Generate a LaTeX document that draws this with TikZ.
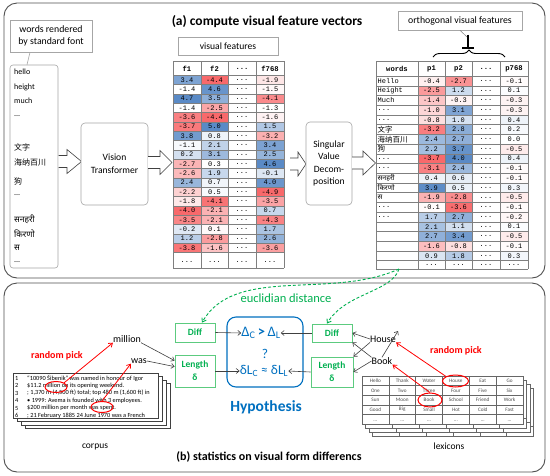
\documentclass[tikz,border=0pt]{standalone}
\usepackage{fontspec}
\setmainfont{Carlito}
\setmonofont{Liberation Mono}
\newfontfamily\cjk{Noto Sans CJK SC}
\newfontfamily\deva[Script=Devanagari]{Noto Sans}
\usetikzlibrary{arrows.meta,decorations.pathreplacing,shapes.geometric,calc}
\definecolor{cblue}{HTML}{5A8AC6}
\definecolor{cred}{HTML}{F8696B}
\definecolor{gtext}{HTML}{00B050}
\definecolor{gboxc}{HTML}{5CCB7F}
\definecolor{hblue}{HTML}{0070C0}
\definecolor{panel}{HTML}{505050}
\definecolor{lbox}{HTML}{A6A6A6}
\definecolor{arr}{HTML}{404040}
\definecolor{gridc}{HTML}{7F7F7F}
\newcommand\fsz[2]{\fontsize{#1}{#2}\selectfont}
\newcommand\vcell[8]{%
  \pgfmathsetmacro\vcdv{(#5)-(#6)}%
  \pgfmathtruncatemacro\vcpos{\vcdv>=0 ? 1 : 0}%
  \ifnum\vcpos=1
    \pgfmathsetmacro\vcpc{min(100,abs(100*\vcdv/(#8)))}\def\vccc{cblue}%
  \else
    \pgfmathsetmacro\vcpc{min(100,abs(100*\vcdv/(#7)))}\def\vccc{cred}%
  \fi
  \colorlet{vctmp}{\vccc!\vcpc!white}%
  \fill[fill=vctmp] (#1,#3) rectangle (#2,#4);
  \node[celltext] at ({(#1+#2)/2},{(#3+#4)/2}) {#5};}
\newcommand\blockarr[4]{%
  \draw[blockarrow] (#1,{#4-6}) -- (#2,{#4-6}) -- (#2,{#4-12}) -- (#3,#4) -- (#2,{#4+12}) -- (#2,{#4+6}) -- (#1,{#4+6});}
\begin{document}
\begin{tikzpicture}[x=1pt,y=-1pt,
  panelbox/.style={draw=panel,line width=0.9pt,rounded corners=13pt},
  lightbox/.style={draw=lbox,line width=0.6pt,fill=white,inner sep=1pt,align=center},
  procbox/.style={draw=lbox,line width=0.6pt,fill=white,rounded corners=4pt,align=center,inner sep=1pt},
  blockarrow/.style={draw=arr,line width=0.6pt,fill=white,line join=miter},
  tabgrid/.style={draw=gridc,line width=0.45pt},
  celltext/.style={font=\ttfamily\fsz{7}{7},inner sep=0pt,text=black},
  headtext/.style={font=\ttfamily\bfseries\fsz{7.2}{8},inner sep=0pt},
  wordtext/.style={font=\fsz{8}{9},anchor=west,inner sep=0pt},
  rwtext/.style={font=\ttfamily\fsz{7}{8},anchor=west,inner sep=0pt},
  gbox/.style={draw=gboxc,line width=0.8pt,fill=white,text=gtext,font=\bfseries\fsz{9.5}{11},align=center,inner sep=1pt},
  garr/.style={draw=arr,line width=0.6pt,-{Straight Barb[length=3pt,width=5pt]}},
  redarr/.style={draw=red,line width=0.8pt,-{Straight Barb[length=3.5pt,width=5pt]}},
  redell/.style={draw=red,line width=1pt,ellipse,inner sep=0pt},
  greendash/.style={draw=gtext,line width=0.9pt,dash pattern=on 3pt off 2pt,-{Straight Barb[length=3.5pt,width=5pt]}},
  htext/.style={text=hblue,font=\fsz{13.5}{14},inner sep=0pt},
  docpage/.style={draw=black!75,line width=0.5pt,fill=white},
  doctext/.style={font=\fsz{6.3}{7},anchor=west,inner sep=0pt},
  lextext/.style={font=\fsz{5.2}{6},text=black!70,inner sep=0pt},
  lexgrid/.style={draw=black!60,line width=0.4pt},
  plaintext/.style={font=\fsz{10}{12},inner sep=0pt}
]
\useasboundingbox (0,0) rectangle (550,475);
\fill[white] (0,0) rectangle (550,475);
% panels
\draw[panelbox] (4,3) rectangle (545,278);
\draw[panelbox] (4,283) rectangle (545,472);
\node[font=\bfseries\fsz{13.5}{15},inner sep=0pt] (ta) at (267,22) {(a) compute visual feature vectors};
\node[font=\bfseries\fsz{12}{14},inner sep=0pt] (tb) at (269,457) {(b) statistics on visual form differencs};

% ---------- word list ----------
\node[lightbox,minimum width=82pt,minimum height=32pt,font=\fsz{9.8}{12.5}] (wr) at (51,36) {words rendered\\by standard font};
\node[draw=lbox,line width=0.6pt,rounded corners=3pt,minimum width=48pt,minimum height=203pt] (wl) at (34,166.5) {};
\draw[lbox,line width=0.6pt] (30,0 |- wr.south) -- (27,0 |- wl.north);
\node[wordtext] at (14,72) {hello};
\node[wordtext] at (14,87) {height};
\node[wordtext] at (14,101) {much};
\node[wordtext] at (14,116) {...};
\node[wordtext,font=\cjk\fsz{8}{9}] at (14,147.5) {文字};
\node[wordtext,font=\cjk\fsz{8}{9}] at (14,162.5) {海纳百川};
\node[wordtext,font=\cjk\fsz{8}{9}] at (14,181) {狗};
\node[wordtext] at (14,195) {...};
\node[wordtext,font=\deva\fsz{8.5}{9}] at (14,219.5) {सनहरी};
\node[wordtext,font=\deva\fsz{8.5}{9}] at (14,233.5) {किरणो};
\node[wordtext,font=\deva\fsz{8.5}{9}] at (14,248) {स};
\node[wordtext] at (14,262) {...};

% ---------- Vision Transformer ----------
\blockarr{58.5}{67}{81.5}{161.5}
\node[procbox,minimum width=67pt,minimum height=82pt,font=\fsz{9.6}{13}] (vt) at (114.5,164) {Vision\\Transformer};
\blockarr{148}{160}{172}{162.5}

% ---------- visual features table ----------
\node[lightbox,minimum width=100pt,minimum height=18pt,font=\fsz{9.6}{11}] (vf) at (228,46) {visual features};
\foreach \v [count=\i] in {3.4,-1.4,4.7,-1.4,-3.6,-3.7,3.8,-1.1,0.2,-2.7,-2.6,2.4,-2.2,-1.8,-4.0,-3.5,-0.2,1.2,-3.8}{%
  \pgfmathsetmacro\yt{75.3+9.33*(\i-1)}\pgfmathsetmacro\yb{\yt+9.33}%
  \vcell{173}{201}{\yt}{\yb}{\v}{-1.4}{2.6}{6.1}}
\foreach \v [count=\i] in {-4.4,4.6,3.5,-2.5,-4.4,5.0,0.8,2.1,3.1,0.3,1.9,0.7,0.5,-4.1,-2.1,-2.1,0.1,-2.8,-1.6}{%
  \pgfmathsetmacro\yt{75.3+9.33*(\i-1)}\pgfmathsetmacro\yb{\yt+9.33}%
  \vcell{201}{228}{\yt}{\yb}{\v}{0.3}{4.7}{4.7}}
\foreach \v [count=\i] in {-1.9,-1.5,-4.1,-1.3,-1.6,1.5,-3.2,3.4,2.5,4.6,-0.1,4.0,-4.9,-3.5,0.7,-4.3,1.7,2.6,-3.6}{%
  \pgfmathsetmacro\yt{75.3+9.33*(\i-1)}\pgfmathsetmacro\yb{\yt+9.33}%
  \vcell{256}{284}{\yt}{\yb}{\v}{-1.3}{3.6}{5.9}}
\foreach \i in {1,...,19} \node[celltext] at (242,{75.3+9.33*(\i-0.5)}) {...};
\foreach \x in {187,214.5,242,270} \node[celltext] at (\x,262) {...};
\node[headtext] at (187,68.5) {f1};
\node[headtext] at (214.5,68.5) {f2};
\node[headtext] at (242,68.5) {...};
\node[headtext] at (270,68.5) {f768};
\foreach \x in {173,201,228,256,284} \draw[tabgrid] (\x,61) -- (\x,268);
\draw[tabgrid] (173,61) -- (284,61);
\foreach \i in {0,...,19} \draw[tabgrid] (173,{75.3+9.33*\i}) -- (284,{75.3+9.33*\i});
\draw[tabgrid] (173,268) -- (284,268);

% ---------- SVD ----------
\blockarr{290}{298}{306}{164}
\node[procbox,minimum width=46pt,minimum height=83pt,font=\fsz{9.6}{12.5}] (svd) at (329,163.5) {Singular\\Value\\Decom-\\position};
\blockarr{352}{363}{375.5}{163}

% ---------- orthogonal table ----------
\node[lightbox,minimum width=124pt,minimum height=19pt,font=\fsz{9.8}{11}] (ob) at (460,20.5) {orthogonal visual features};
\draw[gray,line width=0.5pt] (ob.south) -- (467,37);
\draw[line width=1.6pt] (468,34.5) -- (468,48);
\draw[line width=1.6pt] (462,48) -- (474,48);
\draw[decorate,decoration={brace,amplitude=7pt},line width=0.9pt] (433,57) -- (505,57);
\foreach \v [count=\i] in {-0.4,-2.5,-1.4,-1.0,-0.8,-3.2,2.4,2.2,-3.7,-3.1,0.4,3.9,-1.9,-0.1,1.7,2.1,2.7,-1.6,0.9}{%
  \pgfmathsetmacro\yt{76+9.72*(\i-1)}\pgfmathsetmacro\yb{\yt+9.72}%
  \vcell{418}{445}{\yt}{\yb}{\v}{0}{3.7}{4.0}}
\foreach \v [count=\i] in {-2.7,1.2,-0.3,3.1,1.0,2.8,2.7,3.7,4.0,2.4,0.6,0.5,-2.8,-3.6,2.7,1.1,3.4,-0.8,1.8}{%
  \pgfmathsetmacro\yt{76+9.72*(\i-1)}\pgfmathsetmacro\yb{\yt+9.72}%
  \vcell{445}{472}{\yt}{\yb}{\v}{0}{3.7}{4.0}}
\foreach \v [count=\i] in {-0.1,0.1,-0.3,-0.3,0.4,0.2,0.0,-0.5,0.4,-0.1,-0.1,0.3,-0.5,-0.1,-0.2,0.1,-0.5,-0.1,0.3}{%
  \pgfmathsetmacro\yt{76+9.72*(\i-1)}\pgfmathsetmacro\yb{\yt+9.72}%
  \vcell{500}{528}{\yt}{\yb}{\v}{0}{3.7}{4.0}}
\foreach \i in {1,...,19} \node[celltext] at (486,{76+9.72*(\i-0.5)}) {...};
\foreach \x in {431.5,458.5,486,514} \node[celltext] at (\x,265) {...};
\node[headtext] at (397,68.5) {words};
\node[headtext] at (431.5,68.5) {p1};
\node[headtext] at (458.5,68.5) {p2};
\node[headtext] at (486,68.5) {...};
\node[headtext] at (514,68.5) {p768};
\node[rwtext] at (377.5,80.9) {Hello};
\node[rwtext] at (377.5,90.6) {Height};
\node[rwtext] at (377.5,100.3) {Much};
\node[rwtext] at (377.5,110.0) {...};
\node[rwtext] at (377.5,119.7) {...};
\node[rwtext,font=\cjk\fsz{7.5}{8}] at (377.5,129.5) {文字};
\node[rwtext,font=\cjk\fsz{7.5}{8}] at (377.5,139.2) {海纳百川};
\node[rwtext,font=\cjk\fsz{7.5}{8}] at (377.5,148.9) {狗};
\node[rwtext] at (377.5,158.6) {...};
\node[rwtext] at (377.5,168.3) {...};
\node[rwtext,font=\deva\fsz{7}{8}] at (377.5,178.0) {सनहरी};
\node[rwtext,font=\deva\fsz{7}{8}] at (377.5,187.8) {किरणो};
\node[rwtext,font=\deva\fsz{7}{8}] at (377.5,197.5) {स};
\node[rwtext] at (377.5,207.2) {...};
\node[rwtext] at (377.5,216.9) {...};
\foreach \x in {376,418,445,472,500,528} \draw[tabgrid] (\x,61) -- (\x,269);
\draw[tabgrid] (376,61) -- (528,61);
\foreach \i in {0,...,19} \draw[tabgrid] (376,{76+9.72*\i}) -- (528,{76+9.72*\i});
\draw[tabgrid] (376,269) -- (528,269);

% ---------- bottom: hypothesis ----------
\node[draw=hblue,line width=1.1pt,rounded corners=9pt,minimum width=76pt,minimum height=70pt] (hyp) at (265,352) {};
\node[htext,font=\fsz{14.5}{15}] (h1) at (261,333) {Δ\textsubscript{C}\,\textbf{>}\,Δ\textsubscript{L}};
\node[htext] (hq) at (265,354) {?};
\node[htext] (h3) at (264,371) {δL\textsubscript{C} ≈ δL\textsubscript{L}};
\node[text=hblue,font=\bfseries\fsz{15.5}{17},inner sep=0pt] (hy) at (266,407) {Hypothesis};
\node[text=gtext,font=\fsz{12.5}{14},inner sep=0pt] (eu) at (286,298) {euclidian distance};

\node[gbox,minimum width=40pt,minimum height=19pt] (diffL) at (195,332.5) {Diff};
\node[gbox,minimum width=40pt,minimum height=32pt,font=\bfseries\fsz{9.5}{13}] (lenL) at (195,371) {Length\\δ};
\node[gbox,minimum width=40pt,minimum height=18pt] (diffR) at (332,333) {Diff};
\node[gbox,minimum width=42pt,minimum height=30pt,font=\bfseries\fsz{9.5}{13}] (lenR) at (332,372) {Length\\δ};

\draw[garr] (diffL.east) -- (h1.west);
\draw[garr] (lenL.east) -- (h3.west);
\draw[garr] (diffR.west) -- (h1.east);
\draw[garr] (lenR.west) -- (h3.east);

% green dashed curves
\coordinate (S) at (399,269);
\draw[greendash] (S) .. controls (330,300) and (235,265) .. ([xshift=7pt]diffL.north);
\draw[greendash] (S) .. controls (392,292) and (345,293) .. ([xshift=-5pt]diffR.north);

% ---------- corpus ----------
\node[plaintext] (million) at (127,339) {million};
\node[plaintext] (was) at (139,361) {was};
\node[text=red,font=\bfseries\fsz{10}{12},inner sep=0pt] (rpL) at (57,356) {random pick};
\draw[garr] (million.south east) -- ([yshift=-6pt]lenL.north west);
\draw[garr] (was.east) -- ([yshift=-12pt]lenL.north west);
\foreach \k in {3,2,1} \draw[docpage] ({13+4*\k},{373+3.5*\k}) rectangle ({158+4*\k},{418+3.5*\k});
\node[docpage,minimum width=145pt,minimum height=45pt,inner sep=0pt] (doc) at (85.5,395.5) {};
\begin{scope}
\clip (doc.north west) rectangle (doc.south east);
\node[doctext] at (15,378) {1};
\node[doctext] at (15,385.5) {2};
\node[doctext] at (15,393) {3};
\node[doctext] at (15,400.5) {4};
\node[doctext] at (15,408) {5};
\node[doctext] at (15,415.5) {6};
\node[doctext] at (27,378) {``10090 Šibenik'' was named in honour of Igor};
\node[doctext] at (27,385.5) {\$11.2 million on its opening weekend.};
\node[doctext] at (27,393) {; 1,370 m (4,500 ft) total; top 480 m (1,600 ft) in};
\node[doctext] at (27,400.5) {• 1999: Avema is founded with 3 employees.};
\node[doctext] at (27,408) {\$200 million per month was spent.};
\node[doctext] at (27,415.5) {; 21 February 1885 24 June 1970 was a French};
\end{scope}
\node[redell,minimum width=22pt,minimum height=11pt] (e1) at (56,387) {};
\node[redell,minimum width=22pt,minimum height=11pt] (e2) at (102,407) {};
\draw[redarr] (e1.north east) -- (million.south west);
\draw[redarr] (e2.north) -- (was.south west);
\node[font=\fsz{9.5}{11},inner sep=0pt] (corp) at (95,447) {corpus};

% ---------- lexicons ----------
\node[plaintext] (house) at (383,339) {House};
\node[plaintext] (book) at (382,361) {Book};
\coordinate (hx) at (398,331);
\draw[garr] (house.west) -- (diffR.east);
\draw[garr] (book.north west) -- (diffR.south east);
\draw[garr] (house.south west) -- (lenR.north east);
\draw[garr] (book.west) -- (lenR.east);
\draw[garr] (book.north) -- (hx);
\node[text=red,font=\bfseries\fsz{10}{12},inner sep=0pt] (rpR) at (456,351) {random pick};
\foreach \dx/\dy in {10.5/12,7/8,3.5/4}{%
  \draw[lexgrid,fill=white] ({362+\dx},{376+\dy}) rectangle ({523+\dx},{424+\dy});
  \foreach \c in {1,...,5} \draw[lexgrid] ({362+26.83*\c+\dx},{376+\dy}) -- ({362+26.83*\c+\dx},{424+\dy});
  \draw[lexgrid] ({362+\dx},{414.5+\dy}) -- ({523+\dx},{414.5+\dy});
  \foreach \c in {0,...,5} \node[lextext] at ({375.4+26.83*\c+\dx},{421+\dy}) {...};
}
\draw[lexgrid,fill=white] (362,376) rectangle (523,424);
\foreach \c in {1,...,5} \draw[lexgrid] ({362+26.83*\c},376) -- ({362+26.83*\c},424);
\foreach \r in {1,...,4} \draw[lexgrid] (362,{376+9.6*\r}) -- (523,{376+9.6*\r});
\foreach \w [count=\c from 0] in {Hello,Thank,Water,House,Eat,Go} \node[lextext] at ({375.4+26.83*\c},380.8) {\w};
\foreach \w [count=\c from 0] in {One,Two,Three,Four,Five,Six} \node[lextext] at ({375.4+26.83*\c},390.4) {\w};
\foreach \w [count=\c from 0] in {Sun,Moon,Book,School,Friend,Work} \node[lextext] at ({375.4+26.83*\c},400) {\w};
\foreach \w [count=\c from 0] in {Good,Big,Small,Hot,Cold,Fast} \node[lextext] at ({375.4+26.83*\c},409.6) {\w};
\foreach \c in {0,...,5} \node[lextext] at ({375.4+26.83*\c},421) {...};
\node[redell,minimum width=26pt,minimum height=12pt] (eh) at (455.5,381) {};
\node[redell,minimum width=24pt,minimum height=14pt] (eb) at (430,400) {};
\draw[redarr] (eh.north west) -- (house.south east);
\draw[redarr] (eb.north) -- (book.south east);
\node[font=\fsz{9.5}{11},inner sep=0pt] (lex) at (449,446) {lexicons};
\end{tikzpicture}
\end{document}
